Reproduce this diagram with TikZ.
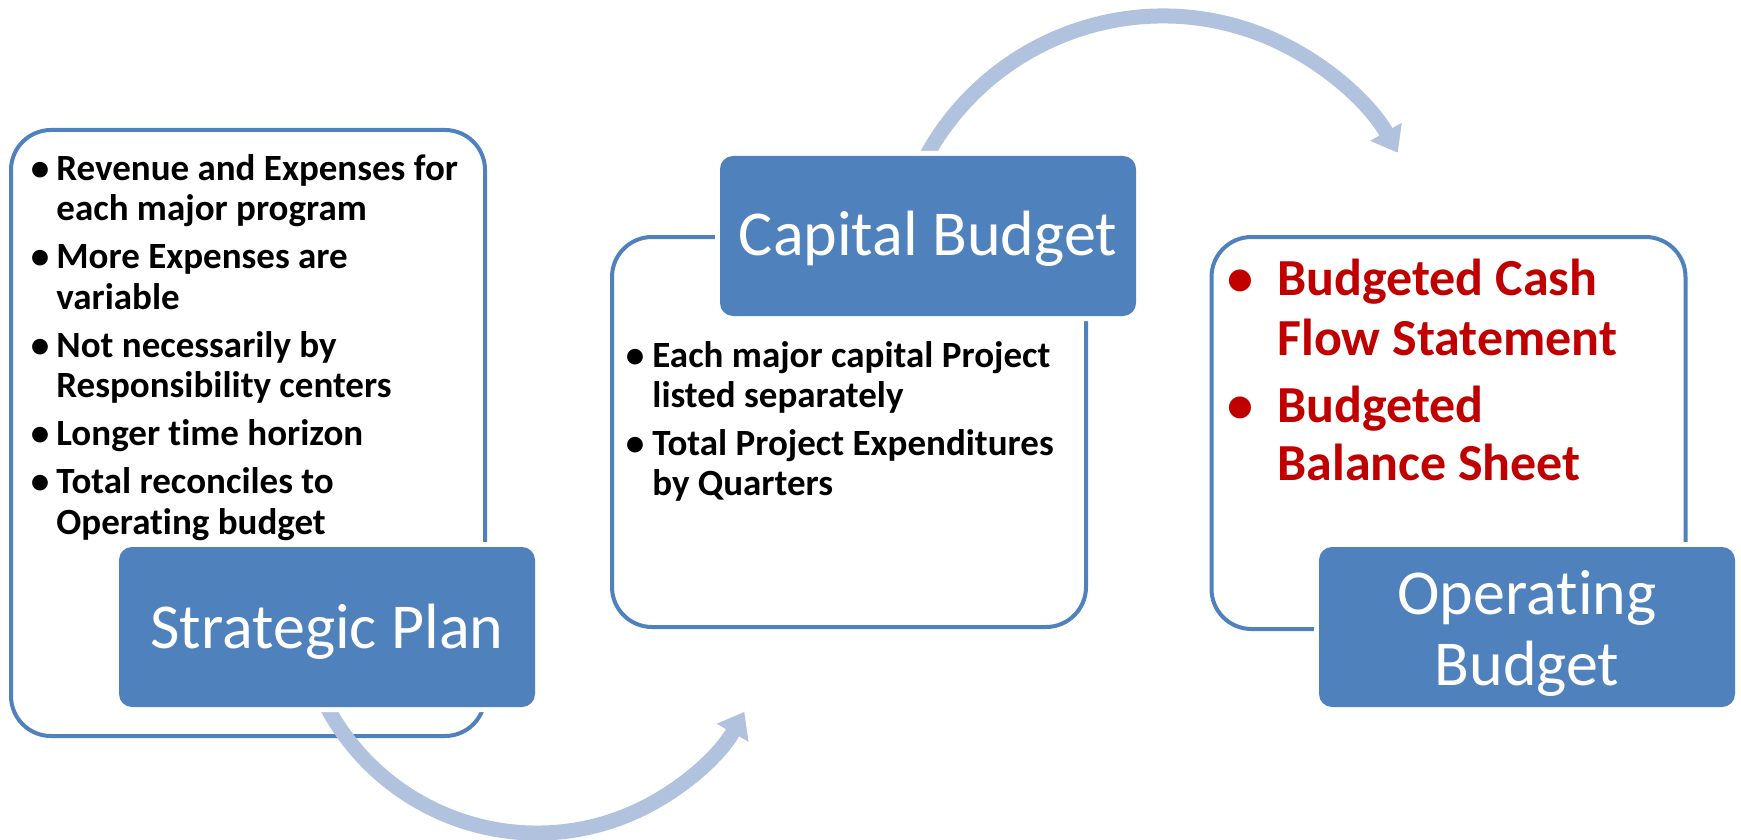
\documentclass[tikz,border=0pt]{standalone}
\usepackage{fontspec}
\setmainfont{Carlito}[RawFeature={-liga;-clig;-calt;-dlig}]
\usetikzlibrary{arrows.meta}

\definecolor{accent}{RGB}{79,129,189}
\definecolor{flowarrow}{RGB}{177,194,222}
\definecolor{deepred}{RGB}{192,0,0}

\tikzset{
  panel/.style={draw=accent, line width=2pt, fill=white, rounded corners=20pt,
    inner sep=0pt, minimum width=237pt},
  title/.style={fill=accent, preaction={draw=white, line width=5pt},
    rounded corners=6.5pt, inner sep=0pt, minimum width=208pt, minimum height=80pt},
  titletext/.style={text=white, font=\fontsize{32pt}{35.75pt}\selectfont,
    inner sep=0pt, anchor=base},
  itemtext/.style={font=\bfseries\fontsize{18.5pt}{20pt}\selectfont,
    inner sep=0pt, anchor=base west},
  itemdot/.style={font=\bfseries\fontsize{18.5pt}{20pt}\selectfont,
    inner sep=0pt, anchor=base},
  redtext/.style={text=deepred, font=\bfseries\fontsize{26pt}{29.5pt}\selectfont,
    inner sep=0pt, anchor=base west},
  reddot/.style={text=deepred, font=\bfseries\fontsize{26pt}{29.5pt}\selectfont,
    inner sep=0pt, anchor=base},
  flow/.style={draw=flowarrow, line width=7.5pt,
    -{Triangle[width=17.5pt,length=12pt]}}
}

\begin{document}
\begin{tikzpicture}[x=0.5pt, y=-0.5pt]
\useasboundingbox (0,0) rectangle (1741,840);

% outlined panels
\node[panel, minimum height=303pt] (plan-panel) at (248,433) {};
\node[panel, minimum height=195pt] (capital-panel) at (849,432) {};
\node[panel, minimum height=196pt] (operating-panel) at (1448.5,433) {};

% curved flow arrows between the stages
\coordinate (sweep-low) at (321.3,695.6);
\coordinate (sweep-high) at (918.3,171.9);
\draw[flow] (sweep-low) arc[start angle=155, end angle=29.4, radius=238];
\draw[flow] (sweep-high) arc[start angle=205, end angle=330.4, radius=270];

% filled title boxes
\node[title] (plan) at (327,627) {};
\node[title] (capital) at (928,236) {};
\node[title] (operating) at (1527,627) {};

\node[titletext] (plan-label) at (327,648) {Strategic Plan};
\node[titletext] (capital-label) at (928,256) {Capital Budget};
\node[titletext] (operating-label1) at (1527,614) {Operating};
\node[titletext] (operating-label2) at (1527,685.5) {Budget};

% strategic plan bullets
\node[itemdot] (pd1) at (40,180) {\textbullet};
\node[itemtext] (p1) at (56,180) {Revenue and Expenses for};
\node[itemtext] (p2) at (56,220.5) {each major program};
\node[itemdot] (pd2) at (40,268.5) {\textbullet};
\node[itemtext] (p3) at (56,268.5) {More Expenses are};
\node[itemtext] (p4) at (56,309) {variable};
\node[itemdot] (pd3) at (40,357) {\textbullet};
\node[itemtext] (p5) at (56,357) {Not necessarily by};
\node[itemtext] (p6) at (56,397.5) {Responsibility centers};
\node[itemdot] (pd4) at (40,445.5) {\textbullet};
\node[itemtext] (p7) at (56,445.5) {Longer time horizon};
\node[itemdot] (pd5) at (40,493.5) {\textbullet};
\node[itemtext] (p8) at (56,493.5) {Total reconciles to};
\node[itemtext] (p9) at (56,534) {Operating budget};

% capital budget bullets
\node[itemdot] (cd1) at (635,367) {\textbullet};
\node[itemtext] (c1) at (652,367) {Each major capital Project};
\node[itemtext] (c2) at (652,407) {listed separately};
\node[itemdot] (cd2) at (635,455) {\textbullet};
\node[itemtext] (c3) at (652,455) {Total Project Expenditures};
\node[itemtext] (c4) at (652,495) {by Quarters};

% operating budget bullets
\node[reddot] (od1) at (1240,295) {\textbullet};
\node[redtext] (o1) at (1277,295) {Budgeted Cash};
\node[redtext] (o2) at (1277,355) {Flow Statement};
\node[reddot] (od2) at (1240,422) {\textbullet};
\node[redtext] (o3) at (1277,422) {Budgeted};
\node[redtext] (o4) at (1277,480) {Balance Sheet};
\end{tikzpicture}
\end{document}
